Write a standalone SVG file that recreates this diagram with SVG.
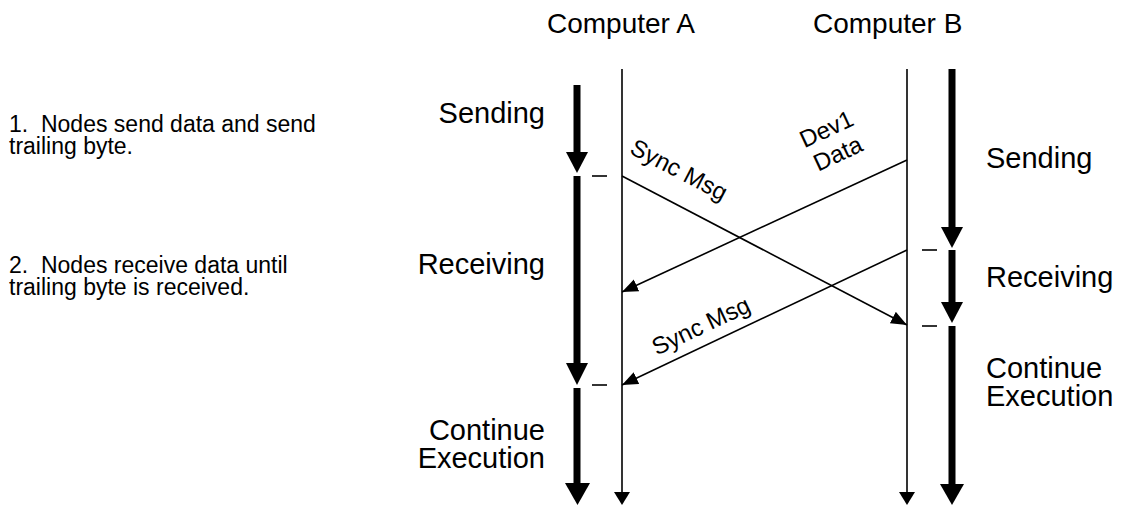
<svg xmlns="http://www.w3.org/2000/svg" width="1121" height="506" viewBox="0 0 1121 506">
  <style>
    text { font-family: "Liberation Sans", Arial, sans-serif; fill: #000; }
    .head { font-size: 28px; }
    .state { font-size: 29px; }
    .note { font-size: 23px; white-space: pre; }
    .msg { font-size: 24px; }
    .life { stroke: #000; stroke-width: 1.6; fill: none; }
    .shaft { stroke: #000; stroke-width: 7; fill: none; }
    .tick { stroke: #000; stroke-width: 1.6; }
    .head-fill { fill: #000; }
  </style>
  <defs>
    <marker id="msgArrow" markerUnits="userSpaceOnUse" markerWidth="18" markerHeight="14" refX="16" refY="6.5" orient="auto">
      <path d="M0,0 L16,6.5 L0,13 Z" fill="#000"/>
    </marker>
  </defs>

  <rect width="1121" height="506" fill="#fff"/>

  <!-- explanatory notes -->
  <g id="notes">
    <text class="note" x="9" y="132" xml:space="preserve">1.  Nodes send data and send</text>
    <text class="note" x="9" y="154">trailing byte.</text>
    <text class="note" x="9" y="273" xml:space="preserve">2.  Nodes receive data until</text>
    <text class="note" x="9" y="295">trailing byte is received.</text>
  </g>

  <!-- Computer A -->
  <g id="computer-a">
    <text class="head" x="547" y="33">Computer A</text>
    <line class="life" x1="622" y1="69" x2="622" y2="494"/>
    <path class="head-fill" d="M614,492 L630,492 L622,505 Z"/>
  </g>

  <g id="a-states">
    <text class="state" x="545" y="123" text-anchor="end">Sending</text>
    <line class="shaft" x1="577" y1="85" x2="577" y2="155"/>
    <path class="head-fill" d="M566,152 L588,152 L577,173 Z"/>
    <line class="tick" x1="592" y1="176" x2="607" y2="176"/>

    <text class="state" x="545" y="274" text-anchor="end">Receiving</text>
    <line class="shaft" x1="577" y1="176" x2="577" y2="365"/>
    <path class="head-fill" d="M566,363 L588,363 L577,385 Z"/>
    <line class="tick" x1="592" y1="385" x2="607" y2="385"/>

    <text class="state" x="545" y="440" text-anchor="end">Continue</text>
    <text class="state" x="545" y="468" text-anchor="end">Execution</text>
    <line class="shaft" x1="577" y1="388" x2="577" y2="485"/>
    <path class="head-fill" d="M565,483 L590,483 L577.5,505 Z"/>
  </g>

  <!-- Computer B -->
  <g id="computer-b">
    <text class="head" x="813" y="33">Computer B</text>
    <line class="life" x1="907" y1="69" x2="907" y2="494"/>
    <path class="head-fill" d="M899,492 L915,492 L907,505 Z"/>
  </g>

  <g id="b-states">
    <text class="state" x="986" y="168">Sending</text>
    <line class="shaft" x1="952" y1="69" x2="952" y2="230"/>
    <path class="head-fill" d="M941,227 L963,227 L952,248 Z"/>
    <line class="tick" x1="922" y1="250" x2="937" y2="250"/>

    <text class="state" x="986" y="287">Receiving</text>
    <line class="shaft" x1="952" y1="250" x2="952" y2="305"/>
    <path class="head-fill" d="M941,302 L963,302 L952,323 Z"/>
    <line class="tick" x1="922" y1="326" x2="937" y2="326"/>

    <text class="state" x="986" y="378">Continue</text>
    <text class="state" x="986" y="406">Execution</text>
    <line class="shaft" x1="952" y1="326" x2="952" y2="486"/>
    <path class="head-fill" d="M940,484 L964,484 L952,505 Z"/>
  </g>

  <!-- messages between the two computers -->
  <g id="connectors">
    <line class="life" x1="622" y1="176" x2="907" y2="325" marker-end="url(#msgArrow)"/>
    <line class="life" x1="907" y1="160" x2="622" y2="292" marker-end="url(#msgArrow)"/>
    <line class="life" x1="907" y1="250" x2="622" y2="385" marker-end="url(#msgArrow)"/>

    <text class="msg" text-anchor="middle" transform="translate(679,170) rotate(27.6)" y="8">Sync Msg</text>
    <g transform="translate(832,141) rotate(-25)">
      <text class="msg" text-anchor="middle" x="0" y="-5">Dev1</text>
      <text class="msg" text-anchor="middle" x="0" y="22">Data</text>
    </g>
    <text class="msg" text-anchor="middle" transform="translate(701,326) rotate(-25.3)" y="8">Sync Msg</text>
  </g>
</svg>
